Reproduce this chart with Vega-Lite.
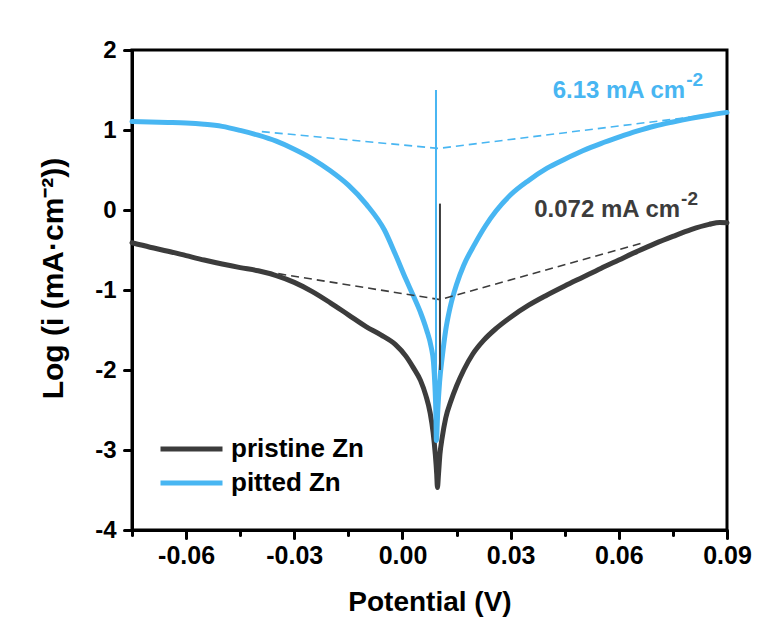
{
  "$schema": "https://vega.github.io/schema/vega-lite/v6.json",
  "width": 595,
  "height": 480,
  "autosize": {"type": "none"},
  "padding": {"left": 132, "top": 50, "right": 34, "bottom": 110},
  "background": "#ffffff",
  "config": {
    "font": "Liberation Sans",
    "view": {"stroke": "#000000", "strokeWidth": 3},
    "locale": {"number": {"decimal": ".", "thousands": ",", "grouping": [3], "currency": ["$", ""], "minus": "-"}}
  },
  "datasets": {
    "curves": [
      {"series": "pristine Zn", "potential": -0.075, "logi": -0.41},
      {"series": "pristine Zn", "potential": -0.070, "logi": -0.465},
      {"series": "pristine Zn", "potential": -0.065, "logi": -0.515},
      {"series": "pristine Zn", "potential": -0.060, "logi": -0.57},
      {"series": "pristine Zn", "potential": -0.055, "logi": -0.625},
      {"series": "pristine Zn", "potential": -0.050, "logi": -0.675},
      {"series": "pristine Zn", "potential": -0.045, "logi": -0.72},
      {"series": "pristine Zn", "potential": -0.040, "logi": -0.76},
      {"series": "pristine Zn", "potential": -0.035, "logi": -0.82},
      {"series": "pristine Zn", "potential": -0.030, "logi": -0.905},
      {"series": "pristine Zn", "potential": -0.025, "logi": -1.02},
      {"series": "pristine Zn", "potential": -0.020, "logi": -1.16},
      {"series": "pristine Zn", "potential": -0.015, "logi": -1.31},
      {"series": "pristine Zn", "potential": -0.010, "logi": -1.46},
      {"series": "pristine Zn", "potential": -0.006, "logi": -1.56},
      {"series": "pristine Zn", "potential": -0.002, "logi": -1.68},
      {"series": "pristine Zn", "potential": 0.001, "logi": -1.83},
      {"series": "pristine Zn", "potential": 0.003, "logi": -1.97},
      {"series": "pristine Zn", "potential": 0.005, "logi": -2.13},
      {"series": "pristine Zn", "potential": 0.0065, "logi": -2.32},
      {"series": "pristine Zn", "potential": 0.0077, "logi": -2.54},
      {"series": "pristine Zn", "potential": 0.0085, "logi": -2.78},
      {"series": "pristine Zn", "potential": 0.0091, "logi": -3.05},
      {"series": "pristine Zn", "potential": 0.0095, "logi": -3.30},
      {"series": "pristine Zn", "potential": 0.0097, "logi": -3.47},
      {"series": "pristine Zn", "potential": 0.0100, "logi": -3.30},
      {"series": "pristine Zn", "potential": 0.0104, "logi": -3.05},
      {"series": "pristine Zn", "potential": 0.0110, "logi": -2.85},
      {"series": "pristine Zn", "potential": 0.0120, "logi": -2.60},
      {"series": "pristine Zn", "potential": 0.0135, "logi": -2.38},
      {"series": "pristine Zn", "potential": 0.0150, "logi": -2.20},
      {"series": "pristine Zn", "potential": 0.0170, "logi": -2.00},
      {"series": "pristine Zn", "potential": 0.0195, "logi": -1.80},
      {"series": "pristine Zn", "potential": 0.0225, "logi": -1.63},
      {"series": "pristine Zn", "potential": 0.0260, "logi": -1.48},
      {"series": "pristine Zn", "potential": 0.0300, "logi": -1.34},
      {"series": "pristine Zn", "potential": 0.0350, "logi": -1.19},
      {"series": "pristine Zn", "potential": 0.0400, "logi": -1.065},
      {"series": "pristine Zn", "potential": 0.0450, "logi": -0.95},
      {"series": "pristine Zn", "potential": 0.0500, "logi": -0.84},
      {"series": "pristine Zn", "potential": 0.0550, "logi": -0.73},
      {"series": "pristine Zn", "potential": 0.0600, "logi": -0.625},
      {"series": "pristine Zn", "potential": 0.0650, "logi": -0.52},
      {"series": "pristine Zn", "potential": 0.0700, "logi": -0.42},
      {"series": "pristine Zn", "potential": 0.0750, "logi": -0.33},
      {"series": "pristine Zn", "potential": 0.0800, "logi": -0.245},
      {"series": "pristine Zn", "potential": 0.0850, "logi": -0.18},
      {"series": "pristine Zn", "potential": 0.0880, "logi": -0.155},
      {"series": "pristine Zn", "potential": 0.0900, "logi": -0.16},
      {"series": "pitted Zn", "potential": -0.075, "logi": 1.105},
      {"series": "pitted Zn", "potential": -0.070, "logi": 1.10},
      {"series": "pitted Zn", "potential": -0.065, "logi": 1.095},
      {"series": "pitted Zn", "potential": -0.060, "logi": 1.088},
      {"series": "pitted Zn", "potential": -0.055, "logi": 1.072},
      {"series": "pitted Zn", "potential": -0.050, "logi": 1.045},
      {"series": "pitted Zn", "potential": -0.045, "logi": 0.995},
      {"series": "pitted Zn", "potential": -0.040, "logi": 0.935},
      {"series": "pitted Zn", "potential": -0.035, "logi": 0.86},
      {"series": "pitted Zn", "potential": -0.030, "logi": 0.76},
      {"series": "pitted Zn", "potential": -0.025, "logi": 0.64},
      {"series": "pitted Zn", "potential": -0.020, "logi": 0.49},
      {"series": "pitted Zn", "potential": -0.015, "logi": 0.31},
      {"series": "pitted Zn", "potential": -0.010, "logi": 0.07},
      {"series": "pitted Zn", "potential": -0.005, "logi": -0.25},
      {"series": "pitted Zn", "potential": -0.002, "logi": -0.55},
      {"series": "pitted Zn", "potential": 0.001, "logi": -0.87},
      {"series": "pitted Zn", "potential": 0.003, "logi": -1.07},
      {"series": "pitted Zn", "potential": 0.005, "logi": -1.28},
      {"series": "pitted Zn", "potential": 0.0067, "logi": -1.50},
      {"series": "pitted Zn", "potential": 0.0080, "logi": -1.72},
      {"series": "pitted Zn", "potential": 0.0086, "logi": -1.90},
      {"series": "pitted Zn", "potential": 0.0090, "logi": -2.20},
      {"series": "pitted Zn", "potential": 0.0093, "logi": -2.60},
      {"series": "pitted Zn", "potential": 0.0094, "logi": -2.88},
      {"series": "pitted Zn", "potential": 0.0098, "logi": -2.50},
      {"series": "pitted Zn", "potential": 0.0103, "logi": -2.15},
      {"series": "pitted Zn", "potential": 0.0110, "logi": -1.85},
      {"series": "pitted Zn", "potential": 0.0120, "logi": -1.50},
      {"series": "pitted Zn", "potential": 0.0132, "logi": -1.22},
      {"series": "pitted Zn", "potential": 0.0150, "logi": -0.93},
      {"series": "pitted Zn", "potential": 0.0170, "logi": -0.69},
      {"series": "pitted Zn", "potential": 0.0200, "logi": -0.43},
      {"series": "pitted Zn", "potential": 0.0230, "logi": -0.20},
      {"series": "pitted Zn", "potential": 0.0260, "logi": -0.01},
      {"series": "pitted Zn", "potential": 0.0300, "logi": 0.19},
      {"series": "pitted Zn", "potential": 0.0350, "logi": 0.37},
      {"series": "pitted Zn", "potential": 0.0400, "logi": 0.52},
      {"series": "pitted Zn", "potential": 0.0450, "logi": 0.635},
      {"series": "pitted Zn", "potential": 0.0500, "logi": 0.74},
      {"series": "pitted Zn", "potential": 0.0550, "logi": 0.83},
      {"series": "pitted Zn", "potential": 0.0600, "logi": 0.91},
      {"series": "pitted Zn", "potential": 0.0650, "logi": 0.985},
      {"series": "pitted Zn", "potential": 0.0700, "logi": 1.05},
      {"series": "pitted Zn", "potential": 0.0750, "logi": 1.10},
      {"series": "pitted Zn", "potential": 0.0800, "logi": 1.145},
      {"series": "pitted Zn", "potential": 0.0850, "logi": 1.185},
      {"series": "pitted Zn", "potential": 0.0900, "logi": 1.22}
    ],
    "tafel": [
      {"series": "pristine Zn", "potential": -0.038, "logi": -0.77},
      {"series": "pristine Zn", "potential": 0.0104, "logi": -1.12},
      {"series": "pristine Zn", "potential": 0.066, "logi": -0.42},
      {"series": "pitted Zn", "potential": -0.039, "logi": 0.98},
      {"series": "pitted Zn", "potential": 0.0100, "logi": 0.77},
      {"series": "pitted Zn", "potential": 0.085, "logi": 1.19}
    ],
    "verticals": [
      {"series": "pitted Zn", "potential": 0.0093, "top": 1.5, "bottom": -2.5},
      {"series": "pristine Zn", "potential": 0.0104, "top": 0.08, "bottom": -2.0}
    ],
    "notes": [
      {"series": "pitted Zn", "potential": 0.0784, "logi": 1.4, "main": "6.13 mA cm", "sup": "-2"},
      {"series": "pristine Zn", "potential": 0.0770, "logi": -0.09, "main": "0.072 mA cm", "sup": "-2"}
    ]
  },
  "layer": [
    {
      "data": {"name": "curves"},
      "mark": {"type": "line", "strokeWidth": 5, "strokeJoin": "round", "strokeCap": "round", "interpolate": "monotone"},
      "encoding": {
        "x": {"field": "potential", "type": "quantitative", "scale": {"domain": [-0.075, 0.09], "nice": false, "zero": false},
          "axis": {
            "values": [-0.075, -0.06, -0.045, -0.03, -0.015, 0, 0.015, 0.03, 0.045, 0.06, 0.075, 0.09],
            "format": ".2f",
            "labelExpr": "abs(round(datum.value*200)) % 6 == 0 ? datum.label : ''",
            "tickSize": {"condition": {"test": "abs(round(datum.value*200)) % 6 == 0", "value": 8}, "value": 5},
            "tickWidth": 3, "tickColor": "#000000", "tickCap": "round",
            "domainWidth": 3, "domainColor": "#000000",
            "grid": false,
            "labelFont": "Liberation Sans", "labelFontWeight": "bold", "labelFontSize": 25, "labelColor": "#000000", "labelPadding": 5,
            "labelFlush": false, "labelOverlap": false,
            "title": "Potential (V)", "titleFont": "Liberation Sans", "titleFontWeight": "bold", "titleFontSize": 28, "titleColor": "#000000",
            "titleY": 58
          }},
        "y": {"field": "logi", "type": "quantitative", "scale": {"domain": [-4, 2], "nice": false, "zero": false},
          "axis": {
            "values": [-4, -3.5, -3, -2.5, -2, -1.5, -1, -0.5, 0, 0.5, 1, 1.5, 2],
            "format": "d",
            "labelExpr": "abs(round(datum.value*2)) % 2 == 0 ? format(datum.value, 'd') : ''",
            "tickSize": {"condition": {"test": "abs(round(datum.value*2)) % 2 == 0", "value": 8}, "value": 5},
            "tickWidth": 3, "tickColor": "#000000", "tickCap": "round",
            "domainWidth": 3, "domainColor": "#000000",
            "grid": false,
            "labelFont": "Liberation Sans", "labelFontWeight": "bold", "labelFontSize": 24, "labelColor": "#000000", "labelPadding": 8,
            "labelFlush": false, "labelOverlap": false,
            "title": "Log (i (mA·cm⁻²))", "titleFont": "Liberation Sans", "titleFontWeight": "bold", "titleFontSize": 30, "titleColor": "#000000",
            "titleX": -64, "titleY": 228, "titleAngle": -90, "titleBaseline": "bottom", "titleAlign": "center"
          }},
        "order": {"field": "potential", "type": "quantitative"},
        "color": {"field": "series", "type": "nominal", "scale": {"domain": ["pristine Zn", "pitted Zn"], "range": ["#3c3c3c", "#48b6f2"]},
          "legend": {
            "orient": "none", "legendX": 26, "legendY": 382, "title": null,
            "symbolType": "stroke", "symbolSize": 3844, "symbolStrokeWidth": 5, "symbolDash": [],
            "labelFont": "Liberation Sans", "labelFontWeight": "bold", "labelFontSize": 26, "labelColor": "#000000",
            "labelOffset": 6, "rowPadding": 0, "clipHeight": 34, "symbolOffset": 0
          }}
      }
    },
    {
      "data": {"name": "tafel"},
      "mark": {"type": "line", "strokeWidth": 1.6, "strokeDash": [8, 5]},
      "encoding": {
        "x": {"field": "potential", "type": "quantitative"},
        "y": {"field": "logi", "type": "quantitative"},
        "order": {"field": "potential", "type": "quantitative"},
        "color": {"field": "series", "type": "nominal"}
      }
    },
    {
      "data": {"name": "verticals"},
      "mark": {"type": "rule", "strokeWidth": 2},
      "encoding": {
        "x": {"field": "potential", "type": "quantitative"},
        "y": {"field": "top", "type": "quantitative"},
        "y2": {"field": "bottom"},
        "color": {"field": "series", "type": "nominal"}
      }
    },
    {
      "data": {"name": "notes"},
      "mark": {"type": "text", "align": "right", "baseline": "alphabetic", "font": "Liberation Sans", "fontWeight": "bold", "fontSize": 24},
      "encoding": {
        "x": {"field": "potential", "type": "quantitative"},
        "y": {"field": "logi", "type": "quantitative"},
        "text": {"field": "main"},
        "color": {"field": "series", "type": "nominal"}
      }
    },
    {
      "data": {"name": "notes"},
      "mark": {"type": "text", "align": "left", "baseline": "alphabetic", "font": "Liberation Sans", "fontWeight": "bold", "fontSize": 19, "dx": 1, "dy": -12},
      "encoding": {
        "x": {"field": "potential", "type": "quantitative"},
        "y": {"field": "logi", "type": "quantitative"},
        "text": {"field": "sup"},
        "color": {"field": "series", "type": "nominal"}
      }
    }
  ]
}
